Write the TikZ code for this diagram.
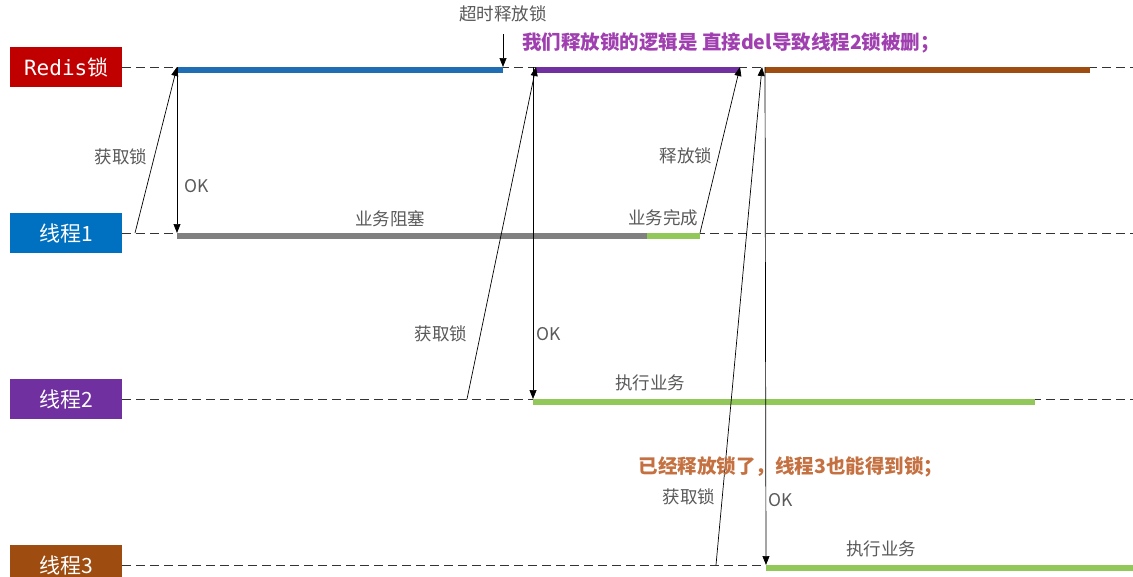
\documentclass[tikz,border=0pt]{standalone}
\usepackage{fontspec}
\setmainfont{Noto Sans CJK SC}
\newfontfamily\redismono{DejaVu Sans Mono}
\usetikzlibrary{arrows.meta,positioning}
\definecolor{redisred}{RGB}{192,0,0}
\definecolor{tblue}{RGB}{0,112,192}
\definecolor{barblue}{RGB}{31,110,180}
\definecolor{tpurple}{RGB}{112,48,160}
\definecolor{tbrown}{RGB}{158,76,16}
\definecolor{bargreen}{RGB}{146,200,90}
\definecolor{notepurple}{RGB}{160,64,176}
\definecolor{noteorange}{RGB}{196,112,64}

\begin{document}
\begin{tikzpicture}[x=1pt,y=-1pt,
          lane/.style={minimum width=112pt,minimum height=40pt,inner sep=0pt,
                       anchor=west,text=white,font=\fontsize{21}{21}\selectfont},
          life/.style={dash pattern=on 9pt off 5pt,line width=0.8pt,black!80},
          bar/.style={line width=5.5pt},
          msg/.style={-{Triangle[length=9pt,width=7pt]},line width=0.7pt},
          lbl/.style={text=black!65,font=\fontsize{17.5}{17.5}\selectfont},
          note/.style={font=\bfseries\fontsize{19.5}{19.5}\selectfont}]
        \useasboundingbox (0,0) rectangle (1133,576);
        % lanes
        \node[lane,fill=redisred] (redis) at (10,67) {{\redismono Redis}锁};
        \node[lane,fill=tblue] (t1) at (10,233) {线程1};
        \node[lane,fill=tpurple] (t2) at (10,399) {线程2};
        \node[lane,fill=tbrown] (t3) at (10,565) {线程3};
        \coordinate (redisend) at (1133,67);
        \coordinate (t1end) at (1133,233);
        \coordinate (t2end) at (1133,399);
        \coordinate (t3end) at (1133,565);
        \draw[life] (redis.east) -- (redisend);
        \draw[life] (t1.east) -- (t1end);
        \draw[life] (t2.east) -- (t2end);
        \draw[life] (t3.east) -- (t3end);
        % lock holders on redis
        \coordinate (a1) at (177,67); \coordinate (a2) at (536,67);
        \coordinate (a3) at (740,67); \coordinate (a4) at (765,67);
        \coordinate (tout) at (503,67);
        \draw[bar,barblue] (177,70) -- (503,70);
        \draw[bar,tpurple] (536,70) -- (740,70);
        \draw[bar,tbrown] (765,70) -- (1090,70);
        % work on threads
        \draw[bar,gray] (177,236) -- (647,236);
        \draw[bar,bargreen] (647,236) -- (700,236);
        \draw[bar,bargreen] (533,402) -- (1035,402);
        \draw[bar,bargreen] (766,568) -- (1133,568);
        % thread 1
        \coordinate (s1) at (135,233); \coordinate (ok1) at (177,233);
        \draw[msg] (s1) -- (a1);
        \draw[msg] (a1) -- (ok1);
        \node[lbl] (get1) at (121,157) {获取锁};
        \node[lbl] (okl1) at (197,186) {OK};
        \node[lbl] (blk) at (390,219) {业务阻塞};
        \coordinate (toutst) at (503,34);
        \draw[msg] (toutst) -- (tout);
        \node[lbl] (toutl) at (503,14) {超时释放锁};
        % thread 2
        \coordinate (s2) at (467,399); \coordinate (a2b) at (533,67);
        \coordinate (ok2) at (533,399);
        \draw[msg] (s2) -- (a2);
        \draw[msg] (a2b) -- (ok2);
        \node[lbl] (get2) at (441,334) {获取锁};
        \node[lbl] (okl2) at (549,334) {OK};
        \node[lbl] (run2) at (650,383) {执行业务};
        % thread 1 release
        \coordinate (r1) at (700,233);
        \draw[msg] (r1) -- (a3);
        \node[lbl] (rel1) at (686,156) {释放锁};
        \node[lbl] (done1) at (663,218) {业务完成};
        \node[note,text=notepurple] (note1) at (731,43) {我们释放锁的逻辑是 直接del导致线程2锁被删；};
        % thread 3
        \coordinate (s3) at (716,565); \coordinate (a4a) at (762,67);
        \coordinate (ok3) at (766,565);
        \draw[msg] (s3) -- (a4a);
        \draw[msg] (a4) -- (ok3);
        \node[lbl] (get3) at (689,497) {获取锁};
        \node[lbl] (okl3) at (781,500) {OK};
        \node[lbl] (run3) at (881,549) {执行业务};
        \node[note,text=noteorange] (note2) at (791,467) {已经释放锁了，线程3也能得到锁；};
\end{tikzpicture}
\end{document}
